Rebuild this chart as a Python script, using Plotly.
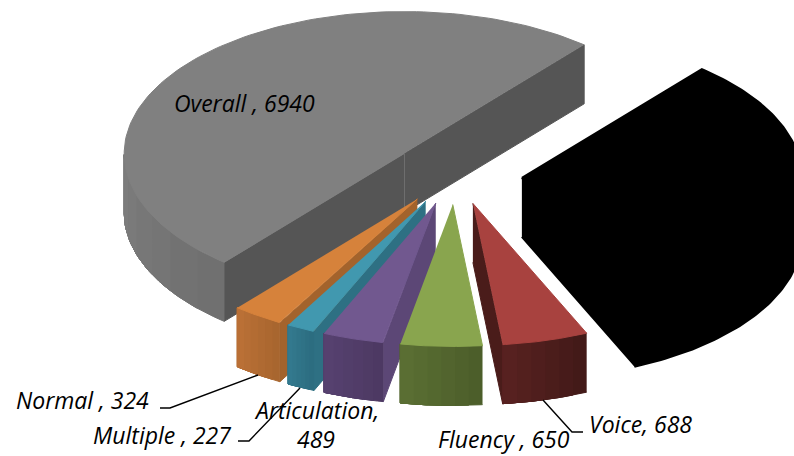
import numpy as np
import plotly.graph_objects as go

categories = ["Hidden", "Voice", "Fluency", "Articulation", "Multiple", "Normal", "Overall"]
values = [4562, 688, 650, 489, 227, 324, 6940]
top_colors = ["#000000", "#A8423F", "#89A54E", "#71588F", "#4198AF", "#D6823B", "#808080"]
rim_left = ["#000000", "#572120", "#5A6E33", "#56416F", "#33798E", "#BA7036", "#7C7C7C"]
rim_right = ["#000000", "#431A18", "#4C5E2A", "#4D3963", "#2C6D80", "#A8662F", "#707070"]
inner_colors = ["#000000", "#4A1C1A", "#5A6E33", "#5C4776", "#2E7083", "#A3632C", "#555555"]

CX, CY = 455.5, 173.5   # pie centre
A, B = 280.0, 142.0     # ellipse radii
EX, EY = 67.0, 31.0     # explosion
DEPTH = 59.0
START = -50.0
# the reference's perspective pulls the near slices a little round the rim
WARP_AT = [-50.0, 68.3, 121.6, 130.0, 310.0]
WARP_BY = [0.0, 2.3, 2.2, 0.0, 0.0]

fig = go.Figure()


def poly(xs, ys, color):
    w = 2 if color == "#000000" else 1
    fig.add_trace(go.Scatter(x=xs, y=ys, mode="lines", fill="toself", fillcolor=color,
                             line=dict(color=color, width=w), hoverinfo="skip", showlegend=False))


def mix(c1, c2, f):
    a = [int(c1[i:i + 2], 16) for i in (1, 3, 5)]
    b = [int(c2[i:i + 2], 16) for i in (1, 3, 5)]
    return "#%02x%02x%02x" % tuple(int(round(p + (q - p) * f)) for p, q in zip(a, b))


edges = START + np.concatenate([[0], np.cumsum(values)]) / np.sum(values) * 360.0
edges = edges - np.interp(edges, WARP_AT, WARP_BY)
for i in [6, 0, 5, 4, 3, 2, 1]:
    t0, t1 = edges[i], edges[i + 1]
    mid = np.radians((t0 + t1) / 2)
    ax = CX + EX * np.cos(mid)
    ay = CY + EY * np.sin(mid)
    ts = np.radians(np.linspace(t0, t1, 121))
    rx = ax + A * np.cos(ts)
    ry = ay + B * np.sin(ts)
    # inner faces that look towards the viewer
    if np.cos(np.radians(t0)) < 0:
        poly([ax, rx[0], rx[0], ax], [ay, ry[0], ry[0] + DEPTH, ay + DEPTH], inner_colors[i])
    if np.cos(np.radians(t1)) > 0:
        poly([ax, rx[-1], rx[-1], ax], [ay, ry[-1], ry[-1] + DEPTH, ay + DEPTH], inner_colors[i])
    # outer rim: each shaded band is painted over the previous one, so no seams show
    vis = np.where(np.sin(ts) > 0)[0]
    if len(vis) > 1:
        n = 6 if top_colors[i] != "#000000" else 1
        cuts = np.linspace(0, len(vis) - 1, n + 1).astype(int)
        for k in range(n):
            idx = vis[cuts[k]:]
            xs = list(rx[idx]) + list(rx[idx][::-1])
            ys = list(ry[idx]) + list(ry[idx][::-1] + DEPTH)
            f = k / max(n - 1, 1)
            poly(xs, ys, mix(rim_right[i], rim_left[i], f))
    poly([ax] + list(rx), [ay] + list(ry), top_colors[i])

LABEL_FONT = dict(family="Open Sans", size=23, color="#000000", style="italic")
labels = [
    ("Overall , 6940", 244, 103),
    ("Normal , 324", 82, 400),
    ("Multiple , 227", 162, 435),
    ("Articulation,", 316, 410),
    ("489", 316, 439),
    ("Fluency , 650", 504, 439),
    ("Voice, 688", 640, 424),
]
for text, x, y in labels:
    fig.add_annotation(x=x, y=y, text=text, showarrow=False, font=LABEL_FONT,
                       xanchor="center", yanchor="middle")

leaders = [
    "M160,408 L170,408 L258,375",
    "M238,441 L249,441 L300,388",
    "M543,400 L572,432 L583,432",
]
for p in leaders:
    fig.add_shape(type="path", path=p, line=dict(color="#000000", width=1.4), layer="above")

fig.update_layout(
    width=794, height=456, margin=dict(l=0, r=0, t=0, b=0),
    paper_bgcolor="#FFFFFF", plot_bgcolor="#FFFFFF", showlegend=False,
    xaxis=dict(range=[0, 794], visible=False, fixedrange=True),
    yaxis=dict(range=[456, 0], visible=False, fixedrange=True),
)
fig.write_html("out.html", config=dict(displayModeBar=False),
               post_script="document.body.style.margin='0';document.body.style.overflow='hidden';")
